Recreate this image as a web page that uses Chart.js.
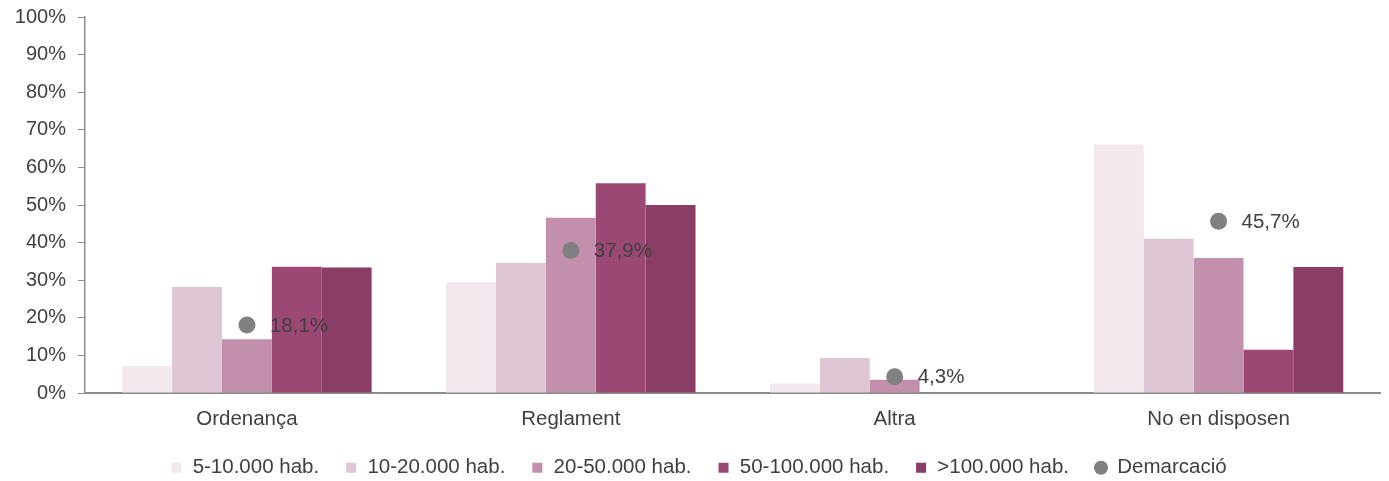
<!DOCTYPE html>
<html>
<head>
<meta charset="utf-8">
<title>Tipus de normativa per tram de població</title>
<script src="https://cdn.jsdelivr.net/npm/chart.js@4/dist/chart.umd.min.js"></script>
<style>
    html, body { margin: 0; padding: 0; background: #fff; overflow: hidden; }
    #wrap { width: 1389px; height: 481px; position: relative; }
</style>
</head>
<body>
<div id="wrap"><canvas id="grafic"></canvas></div>
<script>
// categories i valors (%)
const categories = ['Ordenança', 'Reglament', 'Altra', 'No en disposen'];
const trams = ['5-10.000 hab.', '10-20.000 hab.', '20-50.000 hab.', '50-100.000 hab.', '>100.000 hab.'];
const tram5a10 = [7.2, 29.4, 2.5, 66.1];
const tram10a20 = [28.2, 34.6, 9.3, 41.0];
const tram20a50 = [14.3, 46.6, 3.5, 35.9];
const tram50a100 = [33.6, 55.8, 0, 11.5];
const tramMes100 = [33.4, 50.0, 0, 33.5];
const demarcacio = [18.1, 37.9, 4.3, 45.7];
const yTicks = [0, 10, 20, 30, 40, 50, 60, 70, 80, 90, 100];

const colors = ['#f2e8ee', '#dfc6d5', '#c28fac', '#9c4875', '#8a3d65'];
const valorsTrams = [tram5a10, tram10a20, tram20a50, tram50a100, tramMes100];

const family = '"Liberation Sans", Arial, sans-serif';
const fontTicks = { family: family, size: 20 };
const fontText = { family: family, size: 20.5 };
const textColor = '#404040';
const axisColor = '#8c8c8c';

// etiqueta al costat de cada punt de la demarcació
const etiquetesDemarcacio = {
    id: 'etiquetesDemarcacio',
    afterDatasetsDraw(chart) {
        const idx = chart.data.datasets.length - 1;
        const meta = chart.getDatasetMeta(idx);
        const ctx = chart.ctx;
        ctx.save();
        ctx.font = fontText.size + 'px ' + family;
        ctx.fillStyle = textColor;
        ctx.textAlign = 'left';
        ctx.textBaseline = 'middle';
        meta.data.forEach((pt, i) => {
            const txt = demarcacio[i].toFixed(1).replace('.', ',') + '%';
            ctx.fillText(txt, pt.x + 23, pt.y + 1);
        });
        ctx.restore();
    }
};

const datasets = trams.map((nom, i) => ({
    type: 'bar',
    label: nom,
    data: valorsTrams[i],
    backgroundColor: colors[i],
    borderWidth: 0,
    pointStyle: 'rect',
    order: 1,
    categoryPercentage: 0.77,
    barPercentage: 1.0
}));

datasets.push({
    type: 'line',
    label: 'Demarcació',
    data: demarcacio,
    showLine: false,
    pointStyle: 'circle',
    pointRadius: 8.5,
    pointHoverRadius: 8.5,
    backgroundColor: '#808080',
    borderColor: '#808080',
    borderWidth: 0,
    order: 0
});

Chart.defaults.font.family = family;
Chart.defaults.color = textColor;

new Chart(document.getElementById('grafic'), {
    type: 'bar',
    data: { labels: categories, datasets: datasets },
    plugins: [etiquetesDemarcacio],
    options: {
        responsive: true,
        maintainAspectRatio: false,
        animation: false,
        layout: { padding: { top: 17, right: 4, left: 12, bottom: -7 } },
        plugins: {
            tooltip: { enabled: false },
            legend: {
                position: 'bottom',
                labels: {
                    usePointStyle: true,
                    boxWidth: 12,
                    boxHeight: 10,
                    padding: 26,
                    color: textColor,
                    font: fontText,
                    sort: (a, b) => a.datasetIndex - b.datasetIndex
                }
            }
        },
        scales: {
            x: {
                afterFit: (scale) => {
                    scale.height = 38.5;
                    scale.paddingLeft = 0;
                    scale.paddingRight = 0;
                },
                grid: { display: false },
                border: { display: true, color: axisColor, width: 2 },
                ticks: { color: textColor, font: fontText, padding: 6 }
            },
            y: {
                min: 0,
                max: 100,
                afterBuildTicks: (scale) => { scale.ticks = yTicks.map(v => ({ value: v })); },
                afterFit: (scale) => {
                    scale.width = 73;
                    scale.paddingTop = 0;
                    scale.paddingBottom = 0;
                },
                grid: { drawOnChartArea: false, drawTicks: true, tickLength: 7, color: axisColor },
                border: { display: true, color: axisColor, width: 1.5 },
                ticks: {
                    color: textColor,
                    font: fontTicks,
                    padding: 12,
                    callback: (v) => v + '%'
                }
            }
        }
    }
});
</script>
</body>
</html>
